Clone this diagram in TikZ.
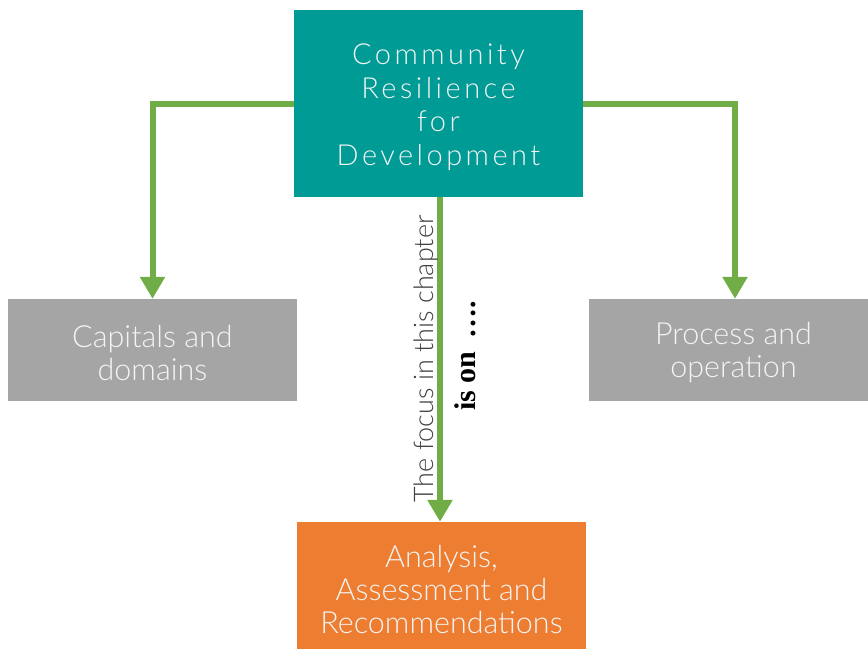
\documentclass[tikz,border=0pt]{standalone}
\usepackage{fontspec}
\setmainfont{Lato}[UprightFont=* Light]
\newfontfamily\serifb{Liberation Serif}
\usetikzlibrary{arrows.meta,calc}
\definecolor{teal1}{HTML}{009B95}
\definecolor{gray1}{HTML}{A5A5A5}
\definecolor{orange1}{HTML}{ED7D31}
\definecolor{green1}{HTML}{70AD47}
\definecolor{txt1}{HTML}{F4F4F4}
\definecolor{dark1}{HTML}{404040}
\newcommand{\pushdown}[1]{\rule{0pt}{#1}}
\begin{document}
\begin{tikzpicture}[x=1pt,y=-1pt,
  box/.style={draw=none,inner sep=0pt,align=center,text=txt1,
    font=\fontsize{30.5}{33}\selectfont},
  arr/.style={draw=green1,line width=6pt,-{Triangle[width=24pt,length=22pt]}}]
\useasboundingbox (0,0) rectangle (868,649);
\node[box,fill=teal1,minimum width=289pt,minimum height=187pt,
  font=\fontsize{29}{33.5}\selectfont\addfontfeature{LetterSpace=12}] (top) at (438.5,103.5)
  {\pushdown{28pt}Community\\Resilience\\for\\Development};
\node[box,fill=gray1,minimum width=289pt,minimum height=102pt] (left) at (152.5,350)
  {\pushdown{28pt}Capitals and\\domains};
\node[box,fill=gray1,minimum width=289pt,minimum height=102pt] (right) at (733.5,350)
  {\pushdown{28pt}Process and\\operation};
\node[box,fill=orange1,minimum width=289pt,minimum height=127pt] (bot) at (441.5,585.5)
  {\pushdown{30pt}Analysis,\\Assessment and\\Recommendations};
\coordinate (rt) at ($(right.north)+(1.5,0)$);
\coordinate (ms) at ($(top.south)+(1.5,0)$);
\draw[arr] (top.west) -| (left.north);
\draw[arr] (top.east) -| (rt);
\draw[arr] (ms) -- (ms |- bot.north);
\node[rotate=90,text=dark1,inner sep=0pt,font=\fontsize{27}{30}\selectfont] (focus) at (426,359)
  {The focus in this chapter};
\node[rotate=90,text=black,inner sep=0pt,font=\serifb\bfseries\fontsize{30}{32}\selectfont] (ison) at (465,356)
  {is on \,….};
\end{tikzpicture}
\end{document}
